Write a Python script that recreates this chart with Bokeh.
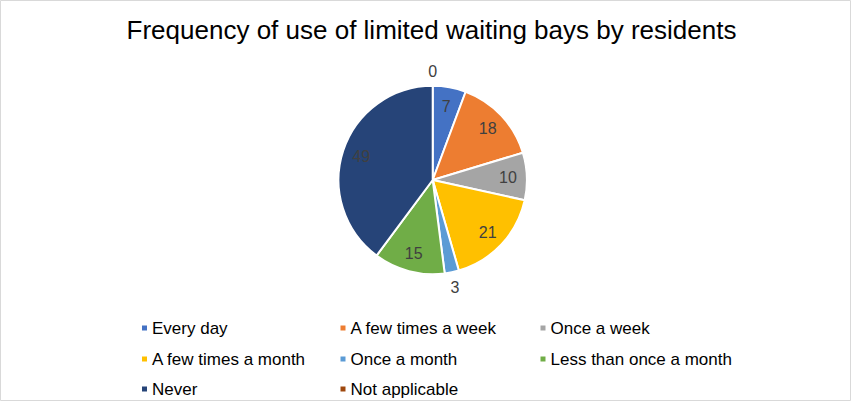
import math
from bokeh.plotting import figure
from bokeh.models import Range1d, ColumnDataSource
from bokeh.core.properties import value
from bokeh.embed import file_html
from bokeh.resources import INLINE

title = "Frequency of use of limited waiting bays by residents"
categories = ["Every day", "A few times a week", "Once a week", "A few times a month",
              "Once a month", "Less than once a month", "Never", "Not applicable"]
counts = [7, 18, 10, 21, 3, 15, 49, 0]
colors = ["#4472C4", "#ED7D31", "#A5A5A5", "#FFC000", "#5B9BD5", "#70AD47", "#264478", "#9E480E"]

W, H = 851, 401
p = figure(width=W, height=H, output_backend="svg", toolbar_location=None,
           x_range=Range1d(0, W), y_range=Range1d(0, H), min_border=0)
p.axis.visible = False
p.grid.visible = False
p.outline_line_color = "#d9d9d9"
p.background_fill_color = "white"

def X(px):
    return px - 8

def Y(py):
    return H + 8 - py

font = value("Liberation Sans")

# pie
cx, cy, R = X(440.2), Y(187.5), 94.2
total = float(sum(counts))
starts, ends, wcol, lx, ly, ltxt = [], [], [], [], [], []
cum = 0.0
for v, c in zip(counts, colors):
    a0 = math.pi / 2 - cum / total * 2 * math.pi
    cum += v
    a1 = math.pi / 2 - cum / total * 2 * math.pi
    if v > 0:
        starts.append(a1)
        ends.append(a0)
        wcol.append(c)
    mid = (a0 + a1) / 2
    rr = R * 0.80 if v / total > 0.04 else R * 1.16
    lx.append(cx + rr * math.cos(mid))
    ly.append(cy + rr * math.sin(mid))
    ltxt.append(str(v))

src = ColumnDataSource(dict(start=starts, end=ends, color=wcol))
p.wedge(x=cx, y=cy, radius=R, start_angle="start", end_angle="end",
        fill_color="color", line_color="white", line_width=2, source=src)

lab_colors = ["#404040"] * len(counts)
p.text(x=lx, y=ly, text=ltxt, text_color=lab_colors, text_font=font,
       text_font_size="16px", text_align="center", text_baseline="middle")

# title
p.text(x=[X(439)], y=[Y(37.5)], text=[title], text_font=font, text_font_size="26px",
       text_color="#000000", text_align="center", text_baseline="middle")

# legend
col_x = [159.5, 358, 558]
row_y = [335.5, 366.5, 396.5]
mx, my, tx, ty = [], [], [], []
for i, c in enumerate(categories):
    r, k = divmod(i, 3)
    mx.append(X(col_x[k] - 7.5))
    my.append(Y(row_y[r]))
    tx.append(X(col_x[k]))
    ty.append(Y(row_y[r]))
p.rect(x=mx, y=my, width=5, height=5, fill_color=colors, line_color=None)
p.text(x=tx, y=ty, text=categories, text_font=font, text_font_size="17px",
       text_color="#000000", text_align="left", text_baseline="middle")

open("out.html", "w").write(file_html(p, INLINE))
